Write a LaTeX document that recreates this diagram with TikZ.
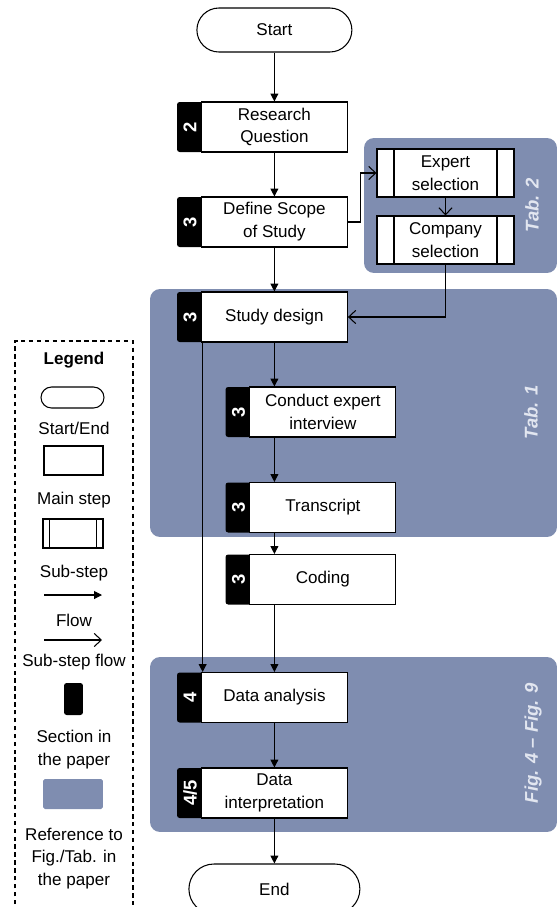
\documentclass[tikz,border=0pt]{standalone}
\usepackage{fontspec}
\setmainfont{Liberation Sans}
\usetikzlibrary{arrows.meta,positioning}
\definecolor{panelblue}{RGB}{127,141,176}
\definecolor{paneltext}{RGB}{226,230,240}
\tikzset
{
    base/.style      = {font=\fontsize{9.7}{13}\selectfont, line width=0.6pt},
    startend/.style  = {draw=black, fill=white, rounded corners=0.44cm, minimum width=3.1cm, minimum height=0.88cm, align=center},
    mainstep/.style  = {draw=black, fill=white, minimum width=2.92cm, minimum height=1cm, align=center, inner sep=1pt},
    substep/.style   = {draw=black, fill=white, align=center, inner sep=1pt,
                        path picture={\draw ([xshift=#1]path picture bounding box.north west) -- ([xshift=#1]path picture bounding box.south west)
                                            ([xshift=-#1]path picture bounding box.north east) -- ([xshift=-#1]path picture bounding box.south east);}},
    substep/.default = 0.34cm,
    secttab/.style   = {fill=black, rounded corners=1.5pt, minimum width=0.52cm, minimum height=1cm, inner sep=0pt, text=white, font=\fontsize{10.5}{12}\selectfont\bfseries},
    refpanel/.style  = {fill=panelblue, rounded corners=0.2cm},
    reflabel/.style  = {rotate=90, text=paneltext, font=\fontsize{10.5}{12}\selectfont\bfseries\itshape},
    legtext/.style   = {align=center},
    flow/.style      = {-{Triangle[length=4.5pt,width=4.5pt]}},
    subflow/.style   = {-{Straight Barb[length=4pt,width=7.5pt]}}
}

\begin{document}
\begin{tikzpicture}[x=0.02cm, y=-0.02cm, base]
\useasboundingbox (0,0) rectangle (559,907);

% reference panels
\node (ptwo)  [refpanel, minimum width=3.86cm, minimum height=2.7cm]  at (460.5,205.5) {};
\node (pone)  [refpanel, minimum width=8.14cm, minimum height=4.96cm] at (353.5,413)   {};
\node (pfig)  [refpanel, minimum width=8.14cm, minimum height=3.5cm]  at (353.5,744.5) {};
\node (ptwol) [reflabel] at (532,205) {Tab. 2};
\node (ponel) [reflabel] at (531,412) {Tab. 1};
\node (pfigl) [reflabel] at (533,743) {Fig. 4 -- Fig. 9};

% main flow
\node (rqn)   [secttab]  at (190,127) {\rotatebox{90}{2}};
\node (rq)    [mainstep, right=-1.5pt of rqn] {Research\\Question};
\node (start) [startend] at (rq |- 0,30) {Start};
\node (scn)   [secttab]  at (190,222) {\rotatebox{90}{3}};
\node (scope) [mainstep, right=-1.5pt of scn] {Define Scope\\of Study};
\node (dsn)   [secttab]  at (190,317) {\rotatebox{90}{3}};
\node (design)[mainstep, right=-1.5pt of dsn] {Study design};
\node (cin)   [secttab]  at (238.5,412) {\rotatebox{90}{3}};
\node (conduct)[mainstep, right=-1.5pt of cin] {Conduct expert\\interview};
\node (trn)   [secttab]  at (238.5,507.5) {\rotatebox{90}{3}};
\node (transcript)[mainstep, right=-1.5pt of trn] {Transcript};
\node (con)   [secttab]  at (238.5,579.5) {\rotatebox{90}{3}};
\node (coding)[mainstep, right=-1.5pt of con] {Coding};
\node (dan)   [secttab]  at (190,697.5) {\rotatebox{90}{4}};
\node (analysis)[mainstep, right=-1.5pt of dan] {Data analysis};
\node (din)   [secttab]  at (190,793) {\rotatebox{90}{4/5}};
\node (interp)[mainstep, right=-1.5pt of din] {Data\\interpretation};
\node (end)   [startend, minimum width=3.42cm, minimum height=1cm, rounded corners=0.5cm] at (interp |- 0,889) {End};

% sub-steps
\node (expert)  [substep, minimum width=2.74cm, minimum height=0.96cm] at (445.5,173) {Expert\\selection};
\node (company) [substep, minimum width=2.74cm, minimum height=0.96cm] at (445.5,240) {Company\\selection};

% connectors
\draw[flow] (start) -- (rq);
\draw[flow] (rq) -- (scope);
\draw[flow] (scope) -- (design);
\draw[flow] (design.south) -- (design.south |- conduct.north);
\draw[flow] (conduct.south -| design.south) -- (transcript.north -| design.south);
\draw[flow] (transcript.south -| design.south) -- (coding.north -| design.south);
\draw[flow] (coding.south -| design.south) -- (analysis.north);
\draw[flow] ([xshift=1pt]design.south west) -- ([xshift=1pt]analysis.north west);
\draw[flow] (analysis) -- (interp);
\draw[flow] (interp) -- (end);
\draw[subflow] (scope.east) -- ++(13,0) |- (expert.west);
\draw[subflow] (expert) -- (company);
\draw[subflow] (company.south) |- (design.east);

% legend
\draw[dash pattern=on 2.5pt off 2pt] (15,920) -- (15,341) -- (133,341) -- (133,920);
\node (leg)    [font=\fontsize{9.7}{13}\selectfont\bfseries] at (74,360) {Legend};
\node (lse)    [draw, rounded corners=0.21cm, minimum width=1.26cm, minimum height=0.42cm] at (72.5,397.5) {};
\node (lsel)   [legtext] at (74,428) {Start/End};
\node (lms)    [draw, minimum width=1.18cm, minimum height=0.58cm] at (73.5,460.5) {};
\node (lmsl)   [legtext] at (74,500) {Main step};
\node (lss)    [substep=0.13cm, minimum width=1.2cm, minimum height=0.58cm] at (73,533.5) {};
\node (lssl)   [legtext] at (74,573) {Sub-step};
\coordinate (lfa) at (44,595);
\coordinate (lfb) at (102,595);
\draw[flow] (lfa) -- (lfb);
\node (lfl)    [legtext] at (74,620) {Flow};
\coordinate (lsa) at (44,640);
\coordinate (lsb) at (102,640);
\draw[subflow] (lsa) -- (lsb);
\node (lsfl)   [legtext] at (74,662) {Sub-step flow};
\node (lsec)   [fill=black, rounded corners=1.5pt, minimum width=0.38cm, minimum height=0.64cm] at (73.5,699) {};
\node (lsecl)  [legtext] at (74,750) {Section in\\the paper};
\node (lref)   [fill=panelblue, rounded corners=1pt, minimum width=1.2cm, minimum height=0.6cm] at (73,794) {};
\node (lrefl)  [legtext] at (74,858.5) {Reference to\\Fig./Tab. in\\the paper};

\end{tikzpicture}
\end{document}
